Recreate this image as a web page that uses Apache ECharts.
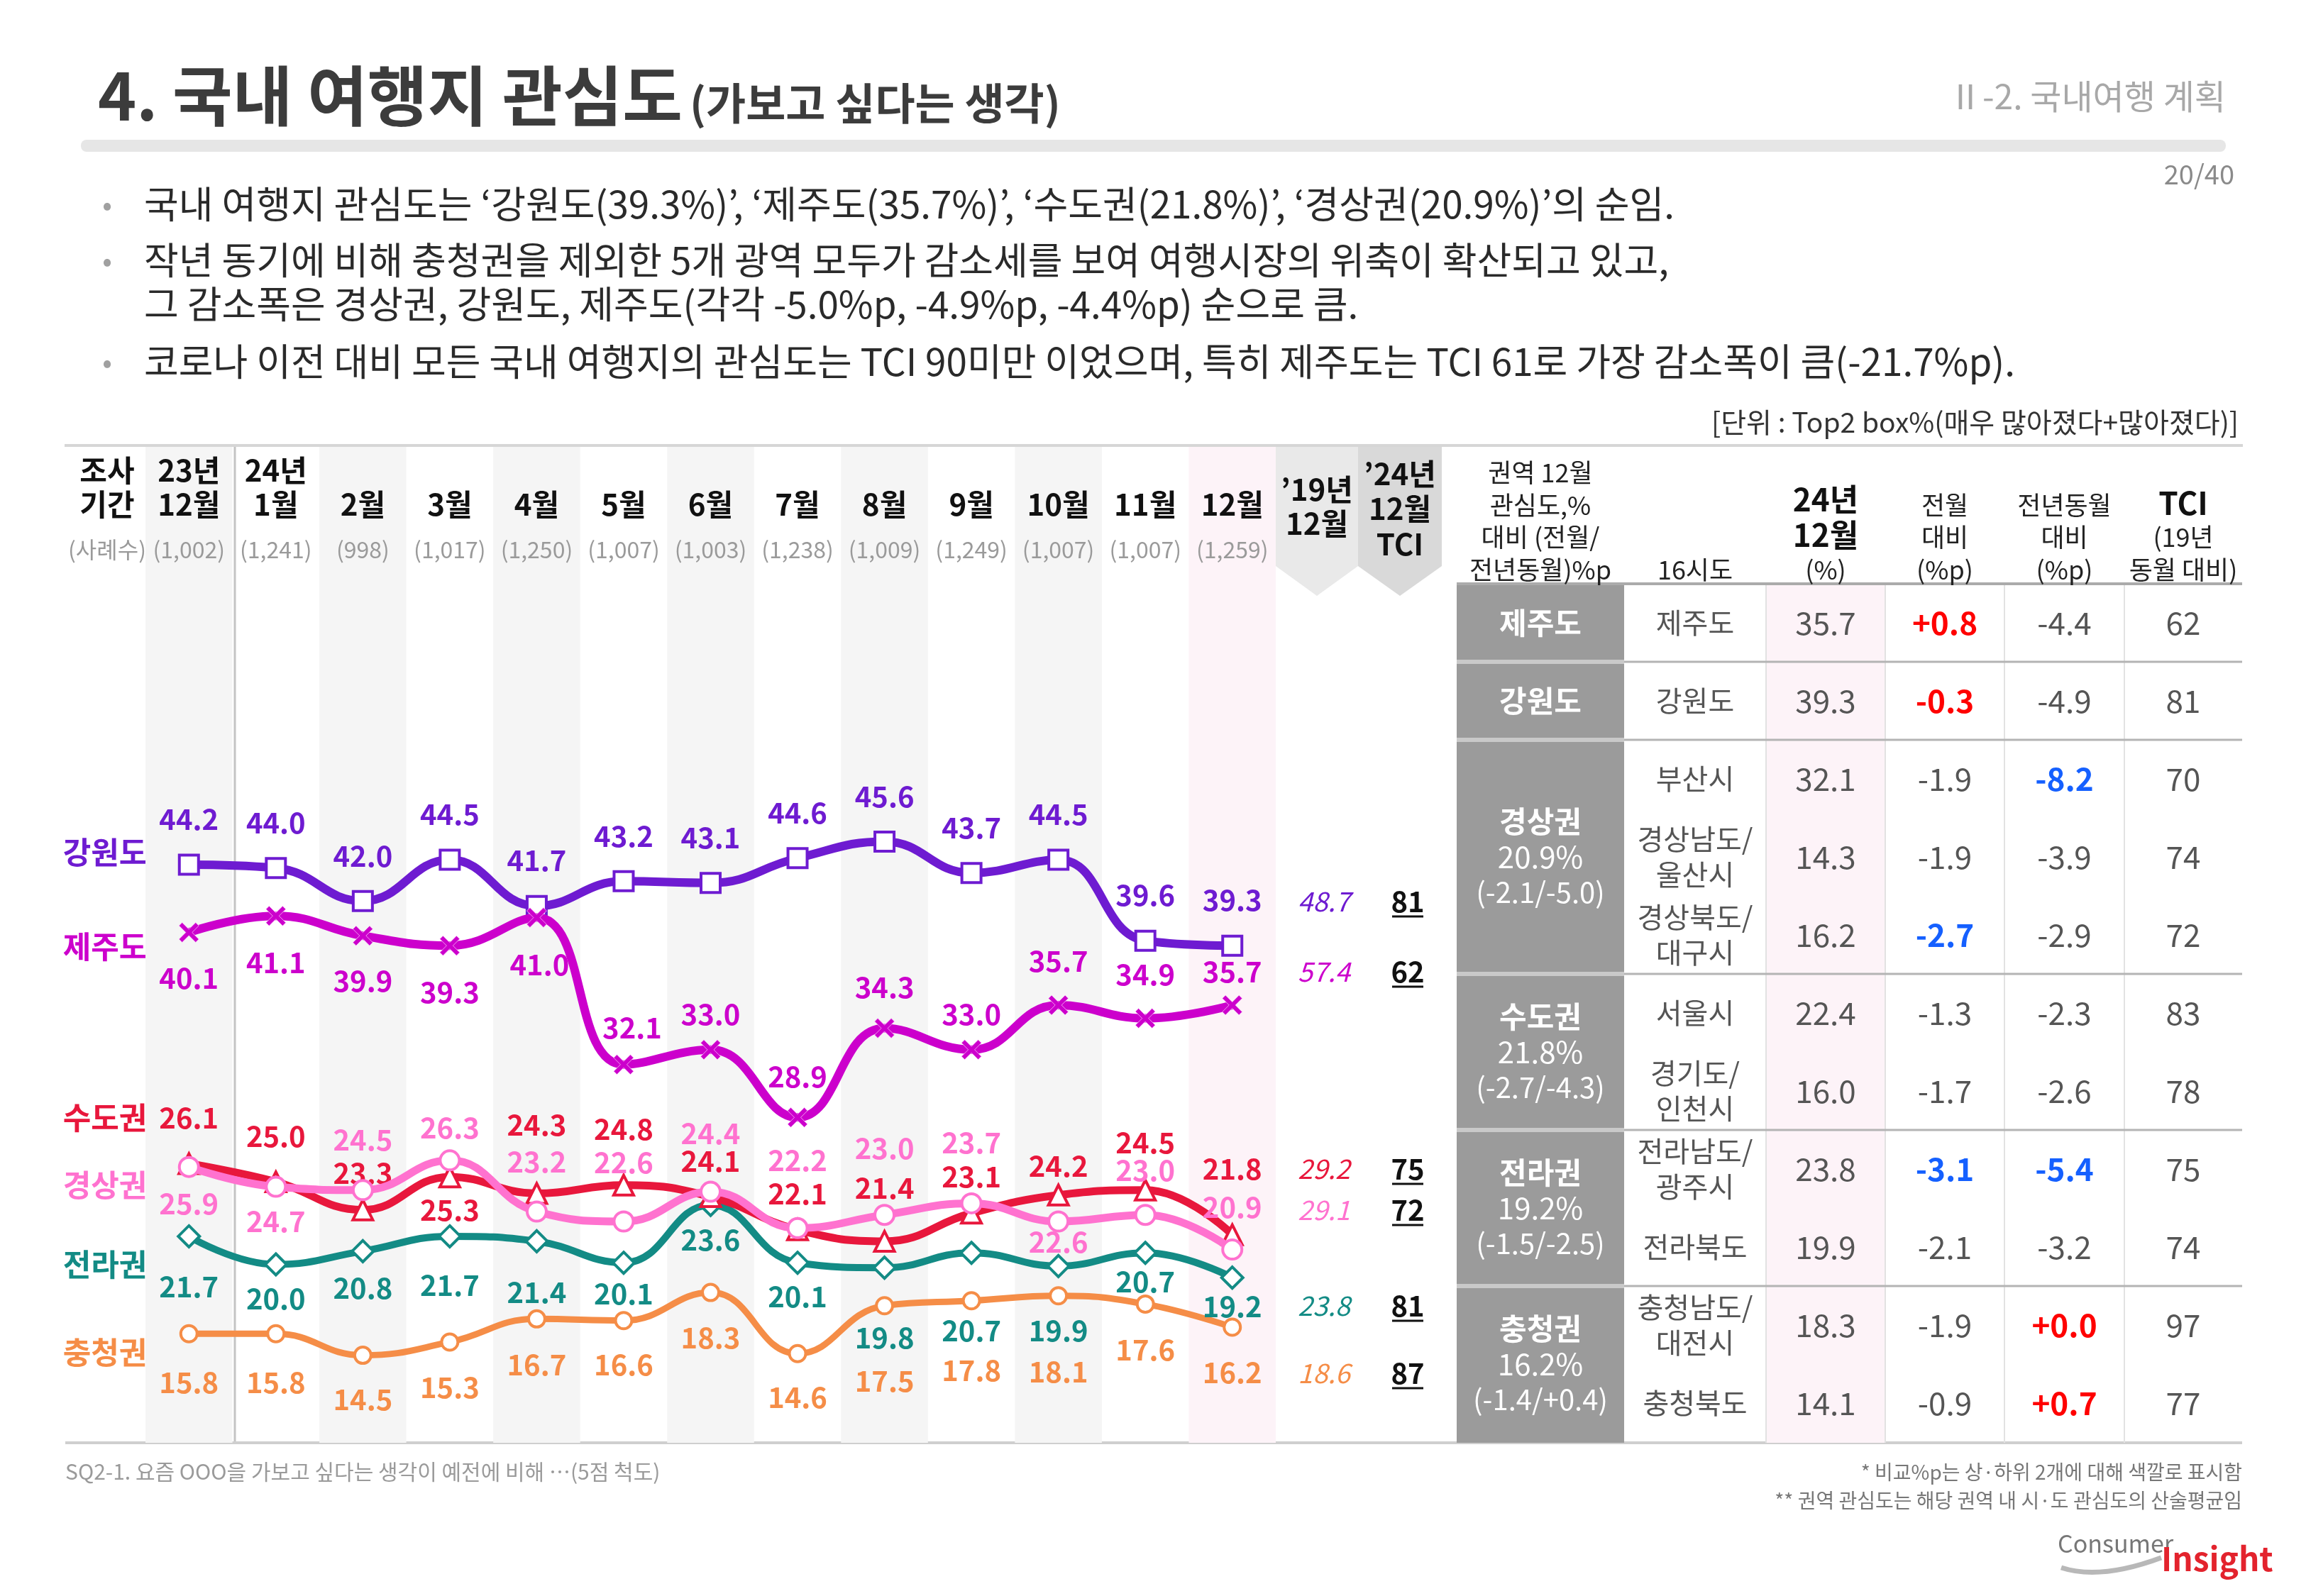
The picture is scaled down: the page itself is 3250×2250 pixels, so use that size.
<!DOCTYPE html>
<html><head><meta charset="utf-8">
<script src="https://cdn.jsdelivr.net/npm/echarts@6/dist/echarts.min.js"></script>
<style>html,body{margin:0;padding:0;background:#fff}#c{width:3250px;height:2250px}</style>
</head><body><div id="c"></div>
<script>
// ---------------- DATA ----------------
const yearLabels = ['23년','24년','','','','','','','','','','',''];
const monthLabels = ['12월','1월','2월','3월','4월','5월','6월','7월','8월','9월','10월','11월','12월'];
const sampleSizes = ['(1,002)','(1,241)','(998)','(1,017)','(1,250)','(1,007)','(1,003)','(1,238)','(1,009)','(1,249)','(1,007)','(1,007)','(1,259)'];
const categories = monthLabels.map((m,i)=> (yearLabels[i]||'24년') + m);

const seriesNames = ['강원도','제주도','수도권','경상권','전라권','충청권'];
const gangwon  = [44.2, 44.0, 42.0, 44.5, 41.7, 43.2, 43.1, 44.6, 45.6, 43.7, 44.5, 39.6, 39.3];
const jeju     = [40.1, 41.1, 39.9, 39.3, 41.0, 32.1, 33.0, 28.9, 34.3, 33.0, 35.7, 34.9, 35.7];
const sudo     = [26.1, 25.0, 23.3, 25.3, 24.3, 24.8, 24.1, 22.1, 21.4, 23.1, 24.2, 24.5, 21.8];
const gyeongsang = [25.9, 24.7, 24.5, 26.3, 23.2, 22.6, 24.4, 22.2, 23.0, 23.7, 22.6, 23.0, 20.9];
const jeolla   = [21.7, 20.0, 20.8, 21.7, 21.4, 20.1, 23.6, 20.1, 19.8, 20.7, 19.9, 20.7, 19.2];
const chungcheong = [15.8, 15.8, 14.5, 15.3, 16.7, 16.6, 18.3, 14.6, 17.5, 17.8, 18.1, 17.6, 16.2];

const base2019 = [48.7, 57.4, 29.2, 29.1, 23.8, 18.6];
const tci2024  = [81, 62, 75, 72, 81, 87];

const tableRegionNames  = ['제주도','강원도','경상권','수도권','전라권','충청권'];
const tableRegionValues = ['', '', '20.9%', '21.8%', '19.2%', '16.2%'];
const tableRegionChange = ['', '', '(-2.1/-5.0)', '(-2.7/-4.3)', '(-1.5/-2.5)', '(-1.4/+0.4)'];
const tableRegionRows   = [1, 1, 3, 2, 2, 2];
const tableCities = ['제주도','강원도','부산시','경상남도/\n울산시','경상북도/\n대구시','서울시','경기도/\n인천시','전라남도/\n광주시','전라북도','충청남도/\n대전시','충청북도'];
const tableDec24  = ['35.7','39.3','32.1','14.3','16.2','22.4','16.0','23.8','19.9','18.3','14.1'];
const tableMoM    = ['+0.8','-0.3','-1.9','-1.9','-2.7','-1.3','-1.7','-3.1','-2.1','-1.9','-0.9'];
const tableYoY    = ['-4.4','-4.9','-8.2','-3.9','-2.9','-2.3','-2.6','-5.4','-3.2','+0.0','+0.7'];
const tableTCI    = ['62','81','70','74','72','83','78','75','74','97','77'];

const bullets = [
  '국내 여행지 관심도는 ‘강원도(39.3%)’, ‘제주도(35.7%)’, ‘수도권(21.8%)’, ‘경상권(20.9%)’의 순임.',
  '작년 동기에 비해 충청권을 제외한 5개 광역 모두가 감소세를 보여 여행시장의 위축이 확산되고 있고,',
  '그 감소폭은 경상권, 강원도, 제주도(각각 -5.0%p, -4.9%p, -4.4%p) 순으로 큼.',
  '코로나 이전 대비 모든 국내 여행지의 관심도는 TCI 90미만 이었으며, 특히 제주도는 TCI 61로 가장 감소폭이 큼(-21.7%p).'
];

// ---------------- LAYOUT / STYLE ----------------
const FONT = "'Noto Sans CJK KR','Noto Sans',sans-serif";
const NUM = "'Noto Sans CJK KR','Noto Sans',sans-serif";
const colors = ['#6e1bd1','#cc00cc','#e8173c','#ff72cf','#138b85','#f58d47'];
// label offsets (label centre minus point centre, px)
const labelDy = [
  [-64,-64,-64,-64,-64,-64,-64,-64,-64,-64,-64,-64,-64],
  [64,66,64,66,66,-52,-50,-58,-58,-50,-62,-62,-47],
  [-65,-64,-52,47,-97,-79,-50,-51,-75,-52,-41,-67,-93],
  [52,49,-71,-46,-70,-83,-82,-96,-94,-86,29,-63,-60],
  [71,48,52,69,72,44,49,48,99,110,91,41,41],
  [68,68,62,64,64,62,64,62,106,98,107,64,64]
];
const labelDx = [
  [0,0,0,0,0,0,0,0,0,0,0,0,0],
  [0,0,0,0,4,12,0,0,0,0,0,0,0],
  [0,0,0,0,0,0,0,0,0,0,0,0,0],
  [0,0,0,0,0,0,0,0,0,0,0,0,0],
  [0,0,0,0,0,0,0,0,0,0,0,0,0],
  [0,0,0,0,0,0,0,0,0,0,0,0,0]
];
const crossPath = 'path://M0,1.6 L1.6,0 L5,3.4 L8.4,0 L10,1.6 L6.6,5 L10,8.4 L8.4,10 L5,6.6 L1.6,10 L0,8.4 L3.4,5 Z';
const symbols = ['rect', crossPath, 'triangle', 'circle', 'diamond', 'circle'];
const symbolSizes = [27, 28, 28, 27, 30, 23];
const lineWidths = [12, 12, 11, 11, 10, 9];
const seriesData = [gangwon, jeju, sudo, gyeongsang, jeolla, chungcheong];
const drawOrder = [5, 4, 2, 3, 0, 1];
const legendY = [1202, 1335, 1576, 1671, 1783, 1907];
const sideRowY = [1271, 1370, 1648, 1706, 1841, 1936];

const YMIN = 9.2, YMAX = 69.5;

// ---------------- SERIES ----------------
const series = [];
series.push({
  type: 'bar', silent: true, z: 0, barWidth: '100%', barGap: '0%',
  data: categories.map((c, i) => i === 12 ? {value: YMAX, itemStyle: {color: '#fdf3f8'}}
                                  : (i % 2 === 0 ? {value: YMAX, itemStyle: {color: '#f5f5f5'}} : '-')),
  label: {show: false}, animation: false
});
drawOrder.forEach(k => {
  const c = colors[k];
  series.push({
    type: 'line', name: seriesNames[k], smooth: 0.45, z: 3 + drawOrder.indexOf(k),
    symbol: symbols[k], symbolSize: symbolSizes[k], showAllSymbol: true,
    lineStyle: {color: c, width: lineWidths[k]},
    itemStyle: k === 1 ? {color: c, borderColor: 'rgba(255,220,255,0.7)', borderWidth: 1}
                       : {color: '#fff', borderColor: c, borderWidth: 4},
    label: {show: true, position: 'inside', color: c, fontFamily: NUM, fontWeight: 'bold', fontSize: 40,
            formatter: p => Number(p.value).toFixed(1)},
    data: seriesData[k].map((v, i) => ({value: v, label: {offset: [labelDx[k][i], labelDy[k][i]]}})),
    animation: false
  });
});

// ---------------- GRAPHIC ----------------
const g = [];
function txt(x, y, text, o) {
  o = o || {};
  g.push({type: 'text', x: x, y: y, silent: true, style: Object.assign({
    text: text, fill: o.fill || '#333', fontSize: o.size || 40, fontFamily: o.family || FONT,
    fontWeight: o.weight || 'normal', fontStyle: o.style || 'normal',
    textAlign: o.align || 'left', textVerticalAlign: o.valign || 'middle',
    align: o.align || 'left', verticalAlign: o.valign || 'middle', lineHeight: o.lh
  }, o.extra || {})});
}
function rect(x, y, w, h, fill, r) {
  g.push({type: 'rect', silent: true, shape: {x: x, y: y, width: w, height: h, r: r || 0}, style: {fill: fill}});
}
function line(x1, y1, x2, y2, stroke, w) {
  g.push({type: 'line', silent: true, shape: {x1: x1, y1: y1, x2: x2, y2: y2}, style: {stroke: stroke, lineWidth: w}});
}

// title area
txt(138, 135, '4. 국내 여행지 관심도', {size: 92, weight: 'bold', fill: '#3c3c3c'});
txt(972, 146, '(가보고 싶다는 생각)', {size: 61, weight: 'bold', fill: '#3c3c3c'});
txt(3137, 136, 'Ⅱ-2. 국내여행 계획', {size: 48, fill: '#a8a8a8', align: 'right'});
rect(114, 197, 3023, 17, '#e6e6e6', 8);
txt(3149, 246, '20/40', {size: 38, fill: '#8a8a8a', align: 'right'});

const bulletY = [288, 367, 429, 510];
bulletY.forEach((y, i) => {
  if (i !== 2) txt(151, y, '•', {size: 40, fill: '#a0a0a0', align: 'center'});
  txt(203, y, bullets[i], {size: 53, fill: '#2a2a2a'});
});
txt(3155, 595, '[단위 : Top2 box%(매우 많아졌다+많아졌다)]', {size: 39, fill: '#333', align: 'right'});

// frame lines
line(91, 628, 3161, 628, '#d6d6d6', 4);
line(92, 2034, 3160, 2034, '#cfcfcf', 4);
line(331, 630, 331, 2032, '#c4c4c4', 3);

// header of left side
txt(151, 663, '조사', {size: 42, weight: 'bold', fill: '#111', align: 'center'});
txt(151, 711, '기간', {size: 42, weight: 'bold', fill: '#111', align: 'center'});
txt(151, 775, '(사례수)', {size: 32, fill: '#9a9a9a', align: 'center'});

// series name labels
seriesNames.forEach((n, k) => txt(148, legendY[k], n, {size: 43, weight: 'bold', fill: colors[k], align: 'center'}));

// chevrons
g.push({type: 'polygon', silent: true, shape: {points: [[1798,630],[1914,630],[1914,798],[1856,840],[1798,798]]}, style: {fill: '#e9e9e9'}});
g.push({type: 'polygon', silent: true, shape: {points: [[1914,630],[2032,630],[2032,798],[1973,840],[1914,798]]}, style: {fill: '#d9d9d9'}});
txt(1856, 690, '’19년', {size: 42, weight: 'bold', fill: '#111', align: 'center', family: NUM});
txt(1856, 738, '12월', {size: 42, weight: 'bold', fill: '#111', align: 'center', family: NUM});
txt(1973, 668, '’24년', {size: 42, weight: 'bold', fill: '#111', align: 'center', family: NUM});
txt(1973, 717, '12월', {size: 42, weight: 'bold', fill: '#111', align: 'center', family: NUM});
txt(1973, 767, 'TCI', {size: 42, weight: 'bold', fill: '#111', align: 'center', family: NUM});

base2019.forEach((v, k) => {
  txt(1866, sideRowY[k], v.toFixed(1), {size: 38, style: 'italic', fill: colors[k], align: 'center', family: NUM});
  txt(1984, sideRowY[k], String(tci2024[k]), {size: 40, weight: 'bold', fill: '#111', align: 'center', family: NUM});
  line(1962, sideRowY[k] + 21, 2006, sideRowY[k] + 21, '#111', 3);
});

// ---------------- TABLE ----------------
const colX = [2053, 2289, 2489, 2657, 2825, 2994, 3160];
const colC = colX.slice(0, 6).map((x, i) => (x + colX[i + 1]) / 2);
const tTop = 823, rowH = 110, tBot = 2034;
rect(colX[2], tTop, colX[3] - colX[2], tBot - tTop, '#fdf3f8');
rect(colX[0], tTop, colX[1] - colX[0], tBot - tTop, '#9b9b9b');
[colX[2], colX[3], colX[4], colX[5]].forEach(x => line(x, tTop, x, tBot, '#e2e2e2', 2));
line(colX[0], tTop, colX[6], tTop, '#ababab', 4);

const hc = '#222';
['권역 12월', '관심도,%', '대비 (전월/', '전년동월)%p'].forEach((t, i) => txt(colC[0], [666, 712, 757, 803][i], t, {size: 36, fill: hc, align: 'center'}));
txt(colC[1], 803, '16시도', {size: 36, fill: hc, align: 'center'});
txt(colC[2], 704, '24년', {size: 44, weight: 'bold', fill: '#111', align: 'center', family: NUM});
txt(colC[2], 754, '12월', {size: 44, weight: 'bold', fill: '#111', align: 'center', family: NUM});
txt(colC[2], 803, '(%)', {size: 36, fill: hc, align: 'center'});
['전월', '대비', '(%p)'].forEach((t, i) => txt(colC[3], [712, 757, 803][i], t, {size: 36, fill: hc, align: 'center'}));
['전년동월', '대비', '(%p)'].forEach((t, i) => txt(colC[4], [712, 757, 803][i], t, {size: 36, fill: hc, align: 'center'}));
txt(colC[5], 709, 'TCI', {size: 44, weight: 'bold', fill: '#111', align: 'center', family: NUM});
txt(colC[5], 757, '(19년', {size: 36, fill: hc, align: 'center'});
txt(colC[5], 803, '동월 대비)', {size: 36, fill: hc, align: 'center'});

function extremes(arr) {
  const nums = arr.map(parseFloat);
  const s = nums.slice().sort((a, b) => b - a);
  const hi = s[1], lo = s[s.length - 2];
  return nums.map(v => v >= hi ? '#ff0000' : (v <= lo ? '#1560ff' : null));
}
const momCol = extremes(tableMoM), yoyCol = extremes(tableYoY);

let r = 0;
tableRegionNames.forEach((name, gi) => {
  const n = tableRegionRows[gi];
  const y0 = tTop + r * rowH, y1 = y0 + n * rowH, cy = (y0 + y1) / 2;
  if (gi > 0) {
    line(colX[0], y0, colX[1], y0, '#c9c9c9', 6);
    line(colX[1], y0, colX[6], y0, '#b4b4b4', 3);
  }
  if (tableRegionValues[gi]) {
    txt(colC[0], cy - 50, name, {size: 42, weight: 'bold', fill: '#fff', align: 'center'});
    txt(colC[0], cy, tableRegionValues[gi], {size: 42, fill: '#fff', align: 'center', family: NUM});
    txt(colC[0], cy + 50, tableRegionChange[gi], {size: 40, fill: '#fff', align: 'center', family: NUM});
  } else {
    txt(colC[0], cy, name, {size: 42, weight: 'bold', fill: '#fff', align: 'center'});
  }
  for (let j = 0; j < n; j++) {
    const idx = r + j, yc = tTop + (idx + 0.5) * rowH;
    txt(colC[1], yc, tableCities[idx], {size: 40, fill: '#555', align: 'center', lh: 50});
    txt(colC[2], yc, tableDec24[idx], {size: 44, fill: '#555', align: 'center', family: NUM});
    txt(colC[3], yc, tableMoM[idx], {size: 44, fill: momCol[idx] || '#555', weight: momCol[idx] ? 'bold' : 'normal', align: 'center', family: NUM});
    txt(colC[4], yc, tableYoY[idx], {size: 44, fill: yoyCol[idx] || '#555', weight: yoyCol[idx] ? 'bold' : 'normal', align: 'center', family: NUM});
    txt(colC[5], yc, tableTCI[idx], {size: 44, fill: '#555', align: 'center', family: NUM});
  }
  r += n;
});

// footer
txt(92, 2075, 'SQ2-1. 요즘 OOO을 가보고 싶다는 생각이 예전에 비해 …(5점 척도)', {size: 30, fill: '#9a9a9a'});
txt(3160, 2075, '* 비교%p는 상·하위 2개에 대해 색깔로 표시함', {size: 28, fill: '#777', align: 'right'});
txt(3160, 2115, '** 권역 관심도는 해당 권역 내 시·도 관심도의 산술평균임', {size: 28, fill: '#777', align: 'right'});
g.push({type: 'bezierCurve', silent: true, shape: {x1: 2905, y1: 2210, x2: 3046, y2: 2196, cpx1: 2960, cpy1: 2228}, style: {stroke: '#b8b8b8', lineWidth: 7, fill: null}});
txt(2900, 2176, 'Consumer', {size: 34, fill: '#777', family: NUM});
txt(3046, 2198, 'Insight', {size: 46, weight: 'bold', fill: '#e3232d', family: NUM});

// ---------------- OPTION ----------------
const option = {
  backgroundColor: '#fff',
  animation: false,
  textStyle: {fontFamily: FONT},
  grid: {left: 205, width: 1593, top: 630, height: 1404, containLabel: false},
  xAxis: {
    type: 'category', data: categories, position: 'top', boundaryGap: true, z: 10,
    axisLine: {show: false}, axisTick: {show: false}, splitLine: {show: false},
    axisLabel: {
      inside: true, interval: 0, margin: 9, verticalAlign: 'top',
      formatter: (v, i) => `{y|${yearLabels[i] || ' '}}\n{m|${monthLabels[i]}}\n{s|${sampleSizes[i]}}`,
      rich: {
        y: {fontSize: 42, fontWeight: 'bold', color: '#111', lineHeight: 48, fontFamily: NUM},
        m: {fontSize: 42, fontWeight: 'bold', color: '#111', lineHeight: 48, fontFamily: NUM},
        s: {fontSize: 32, color: '#9a9a9a', lineHeight: 80, fontFamily: NUM}
      }
    }
  },
  yAxis: {type: 'value', min: YMIN, max: YMAX, show: false, splitLine: {show: false}},
  series: series,
  graphic: {elements: g}
};
const chart = echarts.init(document.getElementById('c'));
chart.setOption(option);
</script>
</body></html>
